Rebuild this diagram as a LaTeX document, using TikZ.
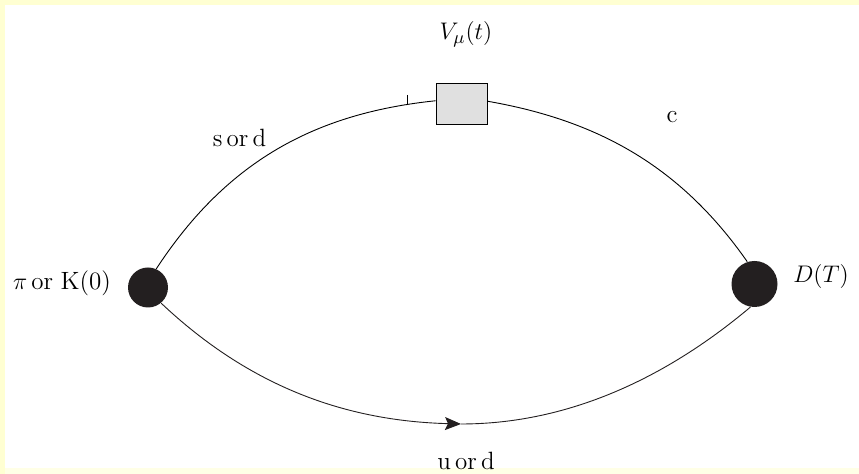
\documentclass[tikz,border=0pt]{standalone}
\usepackage{amsmath}
\usepackage{xcolor}
\usepackage{tikz}
\usetikzlibrary{arrows.meta}
\definecolor{pagecream}{HTML}{FFFFD2}
\definecolor{footcream}{HTML}{FFFFE6}
\definecolor{blobblack}{HTML}{231F20}
\definecolor{boxgrey}{HTML}{E0E0E0}

\begin{document}
\begin{tikzpicture}[x=0.5pt,y=-0.5pt,>=Stealth,line width=0.45pt,every node/.style={font=\fontsize{12.5}{15}\selectfont}]
\tikzstyle{blob}=[circle,fill=blobblack,inner sep=0pt]
\tikzstyle{vertex}=[rectangle,draw=black,fill=boxgrey,inner sep=0pt,minimum width=25.5pt,minimum height=20.5pt]
\useasboundingbox (0,0) rectangle (859,474);
\fill[pagecream] (0,0) rectangle (859,474);
\fill[white] (5,5) rectangle (859,468);
\fill[footcream] (5,468) rectangle (859,474);
\node[blob,minimum size=20pt] (source) at (148,287.5) {};
\node[blob,minimum size=23pt] (sink) at (754.5,284) {};
\node[vertex] (current) at (461.5,103.5) {};
\coordinate (low) at (461,424);
\coordinate (ticktop) at (407,95);
\coordinate (tickfoot) at (407,104);
\draw (source.66) .. controls (228,159) and (318,113) .. (current.174);
\draw (current.5) .. controls (595,120) and (679,164) .. (sink.108);
\draw[-{Stealth[length=8pt,width=6.5pt,inset=1.5pt]},color=blobblack] (source.-50) .. controls (250,387) and (346,421) .. (low);
\draw[color=blobblack] (low) .. controls (561,424) and (659,384) .. (sink.-100);
\draw (ticktop) -- (tickfoot);
\node (vlabel) at (466,34) {$V_\mu(t)$};
\node (clabel) at (672,117) {c};
\node (sdlabel) at (239.5,138) {s\,or\,d};
\node (pilabel) at (62,283) {$\pi$\,or\hspace{.3em}K(0)};
\node (dlabel) at (821,277) {$D(T)$};
\node (udlabel) at (466,461) {u\,or\,d};
\end{tikzpicture}
\end{document}
